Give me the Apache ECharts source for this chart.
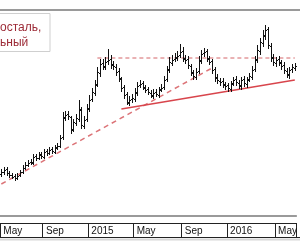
<!DOCTYPE html>
<html>
<head>
<meta charset="utf-8">
<script src="https://cdn.jsdelivr.net/npm/echarts@6/dist/echarts.min.js"></script>
<style>
  html, body { margin: 0; padding: 0; background: #fff; }
  #chart { width: 300px; height: 250px; }
</style>
</head>
<body>
<div id="chart"></div>
<script>
// weekly OHLC bars, May 2014 .. Jun 2016 (unitless price scale)
const opens = [76, 78, 81, 77, 75, 74, 72, 75, 78, 82,
  85, 88, 87, 94, 92, 96, 93, 99, 97, 101,
  98, 103, 104, 113, 132, 136, 133, 121, 127, 131,
  141, 124, 131, 141, 151, 157, 166, 177, 187, 183,
  189, 191, 186, 183, 179, 171, 163, 156, 147, 151,
  151, 157, 165, 167, 162, 161, 157, 154, 158, 155,
  161, 163, 171, 181, 187, 191, 192, 195, 199, 191,
  191, 184, 177, 173, 179, 189, 197, 199, 191, 189,
  181, 173, 169, 169, 165, 165, 161, 167, 171, 167,
  164, 171, 166, 171, 173, 181, 191, 199, 207, 214,
  221, 204, 193, 187, 191, 187, 185, 179, 175, 181, 182]
const closes = [78, 80, 77, 75, 73, 72, 74, 78, 82, 85,
  87, 88, 93, 92, 95, 94, 98, 97, 100, 99,
  102, 104, 112, 133, 135, 134, 120, 128, 132, 140,
  125, 130, 142, 150, 158, 165, 178, 186, 184, 188,
  190, 185, 184, 178, 172, 162, 155, 148, 150, 152,
  158, 164, 166, 163, 160, 158, 155, 157, 156, 160,
  162, 170, 180, 188, 190, 193, 194, 198, 192, 190,
  185, 178, 174, 178, 190, 196, 198, 192, 188, 180,
  172, 170, 168, 166, 164, 162, 166, 170, 168, 165,
  170, 167, 170, 174, 180, 190, 200, 208, 215, 220,
  205, 192, 188, 190, 188, 184, 180, 176, 180, 183, 184]
const highs = [81, 83, 83, 79, 77, 76, 77, 80, 85, 88,
  90, 91, 96, 96, 98, 98, 101, 101, 103, 103,
  105, 107, 115, 138, 139, 139, 134, 131, 136, 150,
  143, 134, 146, 155, 162, 170, 183, 191, 191, 193,
  201, 195, 189, 186, 182, 173, 165, 158, 154, 156,
  162, 168, 170, 169, 165, 163, 160, 161, 161, 163,
  166, 174, 184, 193, 195, 197, 199, 206, 203, 195,
  194, 186, 180, 182, 194, 200, 202, 201, 194, 191,
  183, 176, 172, 172, 168, 167, 169, 173, 174, 170,
  173, 174, 173, 177, 184, 194, 205, 212, 220, 225,
  223, 207, 196, 193, 194, 190, 188, 182, 183, 186, 187]
const lows = [73, 75, 74, 72, 71, 69, 70, 73, 76, 80,
  83, 85, 85, 89, 90, 91, 91, 94, 95, 96,
  96, 100, 102, 110, 129, 130, 116, 118, 124, 128,
  121, 121, 128, 138, 148, 154, 163, 173, 180, 180,
  185, 181, 180, 174, 168, 158, 151, 145, 144, 147,
  148, 154, 162, 160, 157, 155, 152, 151, 153, 152,
  158, 160, 168, 177, 184, 188, 189, 192, 188, 186,
  181, 174, 170, 170, 176, 186, 193, 188, 185, 176,
  168, 166, 164, 162, 160, 158, 158, 164, 164, 161,
  160, 163, 162, 168, 170, 178, 187, 195, 203, 210,
  201, 188, 184, 183, 184, 180, 176, 172, 171, 177, 179]

const tickWeeks = [0, 16, 33, 50, 68, 85, 103]
const tickLabels = ['May', 'Sep', '2015', 'May', 'Sep', '2016', 'May']

// trend lines: [week, price]
const supportDashed = [[0, 66], [79, 182]]
const resistance = [[36, 192], [110, 192]]
const supportSolid = [[45, 141], [110, 170]]

const weeks = opens.map((_, i) => String(i))
const ohlc = opens.map((o, i) => [i, o, closes[i], lows[i], highs[i]])

const chart = echarts.init(document.getElementById('chart'))

const renderBar = (params, api) => {
  const x = Math.round(api.coord([api.value(0), 0])[0]) + 0.5
  const yO = Math.round(api.coord([api.value(0), api.value(1)])[1]) + 0.5
  const yC = Math.round(api.coord([api.value(0), api.value(2)])[1]) + 0.5
  const yL = api.coord([api.value(0), api.value(3)])[1]
  const yH = api.coord([api.value(0), api.value(4)])[1]
  const st = {stroke: '#111', lineWidth: 1}
  return {
    type: 'group',
    children: [
      {type: 'line', shape: {x1: x, y1: yH, x2: x, y2: yL}, style: st},
      {type: 'line', shape: {x1: x - 1.5, y1: yO, x2: x, y2: yO}, style: st},
      {type: 'line', shape: {x1: x, y1: yC, x2: x + 1.5, y2: yC}, style: st}
    ]
  }
}

const option = {
  animation: false,
  backgroundColor: '#fff',
  grid: {left: 0, right: 0, top: 10, bottom: 34},
  xAxis: [{
    type: 'category',
    data: weeks,
    boundaryGap: true,
    axisLine: {lineStyle: {color: '#9a9a9a', width: 2}},
    axisTick: {show: false},
    axisLabel: {show: false}
  }, {
    type: 'category',
    data: weeks,
    position: 'bottom',
    offset: 7,
    boundaryGap: true,
    axisLine: {lineStyle: {color: '#222', width: 1}},
    axisTick: {
      show: true,
      length: 14,
      interval: (i) => tickWeeks.includes(i),
      lineStyle: {color: '#222', width: 1}
    },
    axisLabel: {
      interval: (i) => tickWeeks.includes(i),
      formatter: (v, i) => tickLabels[tickWeeks.indexOf(Number(v))] || '',
      align: 'left',
      margin: 3,
      padding: [0, 0, 0, 2],
      color: '#111',
      fontFamily: 'Liberation Sans, Arial, sans-serif',
      fontSize: 10
    }
  }],
  yAxis: {
    type: 'value',
    min: 34,
    max: 240,
    show: false,
    splitLine: {show: false}
  },
  series: [{
    type: 'line',
    data: supportDashed,
    symbol: 'none',
    silent: true,
    lineStyle: {color: '#dc7478', width: 1.5, type: [5, 4]}
  }, {
    type: 'line',
    data: resistance,
    symbol: 'none',
    silent: true,
    lineStyle: {color: '#d46468', width: 1, type: [4, 3]}
  }, {
    type: 'line',
    data: supportSolid,
    symbol: 'none',
    silent: true,
    lineStyle: {color: '#d8454c', width: 1.5}
  }, {
    type: 'custom',
    data: ohlc,
    renderItem: renderBar,
    encode: {x: 0, y: [1, 2, 3, 4]},
    z: 5
  }],
  graphic: [{
    type: 'line',
    shape: {x1: 0, y1: 10, x2: 300, y2: 10},
    style: {stroke: '#9a9a9a', lineWidth: 2}
  }, {
    type: 'line',
    shape: {x1: 0, y1: 237.5, x2: 300, y2: 237.5},
    style: {stroke: '#222', lineWidth: 1}
  }, {
    type: 'line',
    shape: {x1: 0, y1: 239.5, x2: 300, y2: 239.5},
    style: {stroke: '#d8d8d8', lineWidth: 2}
  }, {
    type: 'rect',
    shape: {x: -60, y: 13.5, width: 110, height: 38},
    style: {fill: '#fff', stroke: '#cfcfcf', lineWidth: 1},
    z: 10
  }, {
    type: 'text',
    left: 0,
    top: 20,
    z: 11,
    style: {
      text: 'осталь,\nьный',
      fill: '#9c2a36',
      font: '12px "Liberation Sans", Arial, sans-serif',
      lineHeight: 15
    }
  }]
}

chart.setOption(option)
</script>
</body>
</html>
